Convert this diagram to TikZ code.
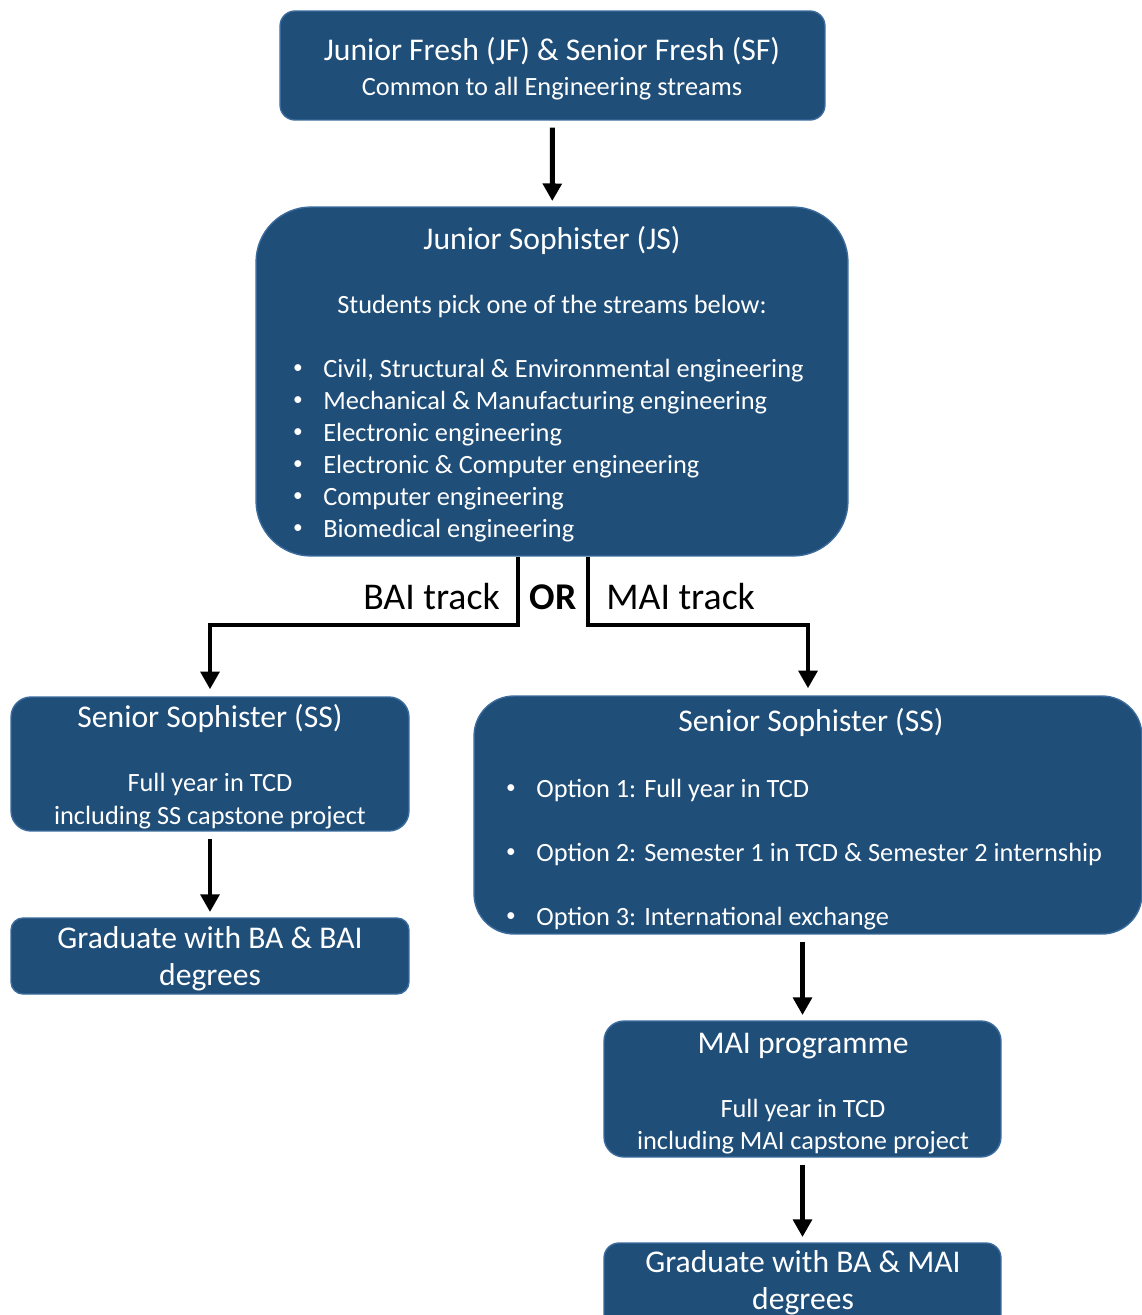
\documentclass[tikz,border=0pt]{standalone}
\usepackage{fontspec}
\setmainfont{Carlito}
\usetikzlibrary{arrows.meta}
\definecolor{boxblue}{HTML}{1F4E79}
\definecolor{boxedge}{HTML}{3A6B9C}
\tikzset{
  box/.style={draw=boxedge, line width=0.8pt, fill=boxblue, inner sep=0pt},
  txt/.style={text=white, anchor=base, inner sep=0pt},
  big/.style={font=\fontsize{18}{22}\selectfont},
  small/.style={font=\fontsize{15}{18}\selectfont},
  dot/.style={text=white, inner sep=0pt, font=\fontsize{11}{13}\selectfont},
  track/.style={inner sep=0pt, font=\fontsize{21.5}{26}\selectfont},
  flow/.style={-{Triangle[length=10pt,width=10.5pt]}, line width=2.8pt},
}
\begin{document}
\begin{tikzpicture}[x=0.02cm,y=-0.02cm]
            \clip (0,0) rectangle (1142,1315);

            \coordinate (BAI) at (518, 625);
            \coordinate (MAI) at (588, 625);

            % boxes
            \node[box,rounded corners=0.3cm,minimum width=10.9cm,minimum height=2.18cm] (JF) at (552.5, 65.5) {};
            \node[box,rounded corners=1.1cm,minimum width=11.84cm,minimum height=6.98cm] (JS) at (552, 381.5) {};
            \node[box,rounded corners=0.4cm,minimum width=7.96cm,minimum height=2.68cm] (SSL) at (210, 764) {};
            \node[box,rounded corners=0.24cm,minimum width=7.96cm,minimum height=1.52cm] (GL) at (210, 956) {};
            \node[box,rounded corners=0.8cm,minimum width=13.36cm,minimum height=4.76cm] (SSR) at (808, 815) {};
            \node[box,rounded corners=0.4cm,minimum width=7.94cm,minimum height=2.72cm] (PROG) at (802.5, 1089) {};
            \node[box,rounded corners=0.3cm,minimum width=7.94cm,minimum height=1.8cm] (GR) at (802.5, 1288) {};

            % JF & SF
            \node[txt,big] (JFtitle) at (552, 60) {Junior Fresh (JF) \& Senior Fresh (SF)};
            \node[txt,small] (JFsub) at (552, 95) {Common to all Engineering streams};

            % JS
            \node[txt,big] (JStitle) at (552, 249) {Junior Sophister (JS)};
            \node[txt,small] (JSsub) at (552, 313) {Students pick one of the streams below:};
            \foreach \stream [count=\i] in {{Civil, Structural \& Environmental engineering},
                    {Mechanical \& Manufacturing engineering}, {Electronic engineering},
                    {Electronic \& Computer engineering}, {Computer engineering},
                    {Biomedical engineering}} {
                \node[dot] (JSdot\i) at (298, 337+32*\i) {•};
                \node[txt,small,anchor=base west] (JSitem\i) at (323, 345+32*\i) {\stream};
            }

            % tracks
            \node[track,anchor=base east] (BAIlabel) at (500, 609) {BAI track};
            \node[track,anchor=base] (ORlabel) at (553, 609) {\bfseries OR};
            \node[track,anchor=base west] (MAIlabel) at (606, 609) {MAI track};

            % SS, BAI side
            \node[txt,big] (SSLtitle) at (210, 727) {Senior Sophister (SS)};
            \node[txt,small] (SSLa) at (210, 791) {Full year in TCD};
            \node[txt,small] (SSLb) at (210, 824) {including SS capstone project};
            \node[txt,big] (GLa) at (210, 948) {Graduate with BA \& BAI};
            \node[txt,big] (GLb) at (210, 985) {degrees};

            % SS, MAI side
            \node[txt,big] (SSRtitle) at (811, 731) {Senior Sophister (SS)};
            \foreach \opt [count=\i] in {{Option 1: Full year in TCD},
                    {Option 2: Semester 1 in TCD \& Semester 2 internship},
                    {Option 3: International exchange}} {
                \node[dot] (SSRdot\i) at (511, 725+64*\i) {•};
                \node[txt,small,anchor=base west] (SSRopt\i) at (536, 733+64*\i) {\opt};
            }
            \node[txt,big] (PROGtitle) at (803, 1053) {MAI programme};
            \node[txt,small] (PROGa) at (803, 1117) {Full year in TCD};
            \node[txt,small] (PROGb) at (803, 1149) {including MAI capstone project};
            \node[txt,big] (GRa) at (803, 1272) {Graduate with BA \& MAI};
            \node[txt,big] (GRb) at (803, 1309) {degrees};

            % arrows
            \draw[flow,shorten <=4pt,shorten >=3pt] (JF) -- (JS);
            \draw[flow,shorten >=4pt] (JS.south -| BAI) -- (BAI) -| (SSL.north);
            \draw[flow,shorten >=4pt] (JS.south -| MAI) -- (MAI) -| (SSR.north);
            \draw[flow,shorten <=4pt,shorten >=3pt] (SSL) -- (GL);
            \draw[flow,shorten <=4pt,shorten >=3pt] (SSR.south -| PROG.north) -- (PROG);
            \draw[flow,shorten <=4pt,shorten >=3pt] (PROG) -- (GR);

        \end{tikzpicture}
\end{document}
